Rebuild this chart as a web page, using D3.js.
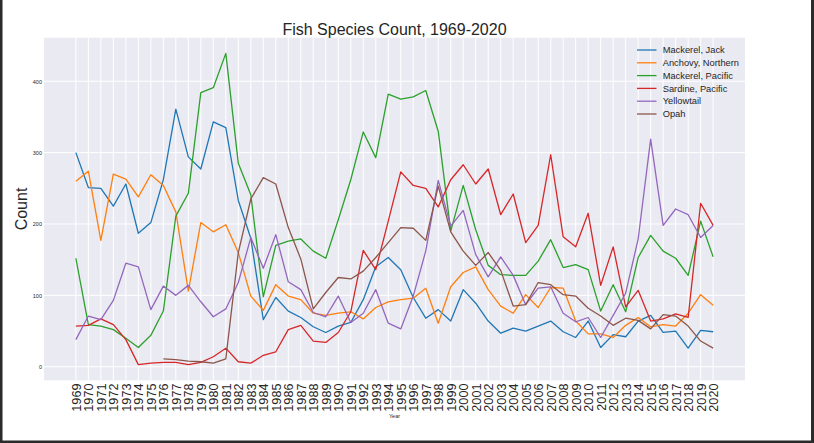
<!DOCTYPE html>
<html>
<head>
<meta charset="utf-8">
<script src="https://cdn.jsdelivr.net/npm/d3@7"></script>
<style>
  html, body { margin: 0; padding: 0; background: #fff; }
  svg { display: block; font-family: "Liberation Sans", Arial, sans-serif; }
</style>
</head>
<body>
<svg id="chart"></svg>
<script>
const years = d3.range(1969, 2021);

const seriesNames = ["Mackerel, Jack", "Anchovy, Northern", "Mackerel, Pacific", "Sardine, Pacific", "Yellowtail", "Opah"];

const mackerelJack = [300, 251, 250, 225, 256, 187, 202, 262, 361, 294, 277, 343, 335, 233, 180, 66, 97, 78, 69, 56,
  48, 57, 62, 94, 140, 153, 136, 97, 68, 80, 64, 108, 89, 64, 47, 54, 50, 57, 64, 49,
  41, 64, 27, 45, 42, 64, 72, 48, 50, 26, 51, 49];
const anchovyNorthern = [260, 274, 177, 270, 263, 238, 269, 254, 217, 106, 202, 189, 199, 160, 99, 79, 115, 99, 94, 75,
  72, 75, 77, 67, 83, 91, 94, 96, 110, 61, 112, 132, 140, 108, 85, 75, 101, 83, 111, 110,
  64, 46, 46, 41, 58, 69, 56, 59, 57, 75, 101, 86];
const mackerelPacific = [152, 59, 57, 52, 40, 27, 44, 78, 211, 243, 384, 391, 439, 285, 241, 98, 170, 176, 179, 162,
  152, 206, 262, 329, 293, 382, 375, 378, 387, 330, 190, 254, 192, 142, 129, 128, 128, 148, 178, 139,
  143, 136, 78, 115, 77, 153, 184, 162, 152, 128, 204, 154];
const sardinePacific = [57, 58, 67, 59, 38, 3, 5, 6, 6, 3, 6, 14, 26, 7, 5, 16, 21, 52, 58, 36,
  34, 48, 77, 163, 136, 204, 273, 254, 250, 224, 262, 283, 256, 277, 213, 242, 174, 198, 297, 182,
  168, 215, 114, 168, 84, 107, 64, 67, 74, 69, 229, 198];
const yellowtail = [38, 71, 66, 93, 145, 140, 80, 113, 100, 114, 91, 70, 81, 118, 181, 138, 185, 119, 108, 76,
  70, 99, 62, 75, 108, 61, 53, 99, 162, 261, 197, 219, 157, 126, 154, 128, 87, 110, 112, 75,
  63, 69, 41, 72, 103, 179, 319, 198, 221, 213, 181, 198];
// Opah has no counts before 1976
const opah = [null, null, null, null, null, null, null, 11, 10, 8, 7, 5, 11, 160, 235, 265, 256, 195, 151, 81,
  104, 125, 123, 134, 153, 174, 195, 194, 177, 253, 189, 162, 142, 160, 135, 85, 87, 118, 115, 101,
  99, 82, 71, 58, 68, 65, 53, 73, 71, 57, 36, 26];

const yTicks = [0, 100, 200, 300, 400];

const seriesValues = [mackerelJack, anchovyNorthern, mackerelPacific, sardinePacific, yellowtail, opah];
const colors = ["#1f77b4", "#ff7f0e", "#2ca02c", "#d62728", "#9467bd", "#8c564b"];

const W = 814, H = 443;
const plot = { left: 44, right: 745, top: 37.7, bottom: 380.3 };

const svg = d3.select("#chart")
  .attr("width", W)
  .attr("height", H);

// 5% margins like matplotlib
const pad = (2020 - 1969) * 0.05;
const x = d3.scaleLinear()
  .domain([1969 - pad, 2020 + pad])
  .range([plot.left, plot.right]);

const y = d3.scaleLinear()
  .domain([-19, 461])
  .range([plot.bottom, plot.top]);

// axes background
svg.append("rect")
  .attr("x", plot.left)
  .attr("y", plot.top)
  .attr("width", plot.right - plot.left)
  .attr("height", plot.bottom - plot.top)
  .attr("fill", "#eaeaf2");

// grid
const grid = svg.append("g")
  .attr("stroke", "#fff")
  .attr("stroke-width", 1);

grid.selectAll("line.vgrid")
  .data(years)
  .join("line")
    .attr("class", "vgrid")
    .attr("x1", d => x(d)).attr("x2", d => x(d))
    .attr("y1", plot.top).attr("y2", plot.bottom);

grid.selectAll("line.hgrid")
  .data(yTicks)
  .join("line")
    .attr("class", "hgrid")
    .attr("x1", plot.left).attr("x2", plot.right)
    .attr("y1", d => y(d)).attr("y2", d => y(d));

// lines
const line = d3.line()
  .defined(d => d[1] != null)
  .x(d => x(d[0]))
  .y(d => y(d[1]));

svg.append("g")
  .attr("fill", "none")
  .attr("stroke-width", 1.3)
  .attr("stroke-linejoin", "round")
  .selectAll("path")
  .data(seriesValues)
  .join("path")
    .attr("stroke", (d, i) => colors[i])
    .attr("d", vals => line(years.map((yr, j) => [yr, vals[j]])));

// x axis
const xAxis = svg.append("g")
  .attr("transform", `translate(0,${plot.bottom})`)
  .call(d3.axisBottom(x).tickValues(years).tickFormat(d3.format("d")).tickSize(0).tickPadding(0));
xAxis.select(".domain").remove();
xAxis.selectAll("text")
  .attr("transform", d => `translate(0,3.3) rotate(-90)`)
  .attr("x", 0)
  .attr("y", 0)
  .attr("dy", "0.36em")
  .style("text-anchor", "end")
  .style("font-family", "Liberation Sans, Arial, sans-serif")
  .style("font-size", "12.6px")
  .attr("fill", "#262626");

// y axis
const yAxis = svg.append("g")
  .attr("transform", `translate(${plot.left - 2},0)`)
  .call(d3.axisLeft(y).tickValues(yTicks).tickSize(0).tickPadding(0));
yAxis.select(".domain").remove();
yAxis.selectAll("text")
  .style("font-family", "Liberation Sans, Arial, sans-serif")
  .style("font-size", "5.5px")
  .attr("fill", "#262626");

// labels
svg.append("text")
  .attr("x", (plot.left + plot.right) / 2)
  .attr("y", 35)
  .attr("text-anchor", "middle")
  .attr("fill", "#262626")
  .style("font-size", "16px")
  .text("Fish Species Count, 1969-2020");

svg.append("text")
  .attr("transform", `translate(26.5,${(plot.top + plot.bottom) / 2}) rotate(-90)`)
  .attr("text-anchor", "middle")
  .attr("fill", "#262626")
  .style("font-size", "16px")
  .text("Count");

svg.append("text")
  .attr("x", (plot.left + plot.right) / 2)
  .attr("y", 418)
  .attr("text-anchor", "middle")
  .attr("fill", "#262626")
  .style("font-size", "5.5px")
  .text("Year");

// legend
const legend = svg.append("g")
  .attr("transform", "translate(637,50)")
  .selectAll("g")
  .data(seriesNames)
  .join("g")
    .attr("transform", (d, i) => `translate(0,${i * 12.8})`);

legend.append("line")
  .attr("x1", 0).attr("x2", 19.5)
  .attr("stroke", (d, i) => colors[i])
  .attr("stroke-width", 1.3);

legend.append("text")
  .attr("x", 25.7)
  .attr("dy", "0.35em")
  .attr("fill", "#262626")
  .style("font-size", "9.3px")
  .text(d => d);

// dark frame of the screenshot
const frame = svg.append("g").attr("fill", "#2b2b2b");
frame.append("rect").attr("x", 0).attr("y", 0).attr("width", 2.5).attr("height", H);
frame.append("rect").attr("x", W - 3).attr("y", 0).attr("width", 3).attr("height", H);
frame.append("rect").attr("x", 0).attr("y", H - 2.5).attr("width", W).attr("height", 2.5);
</script>
</body>
</html>
